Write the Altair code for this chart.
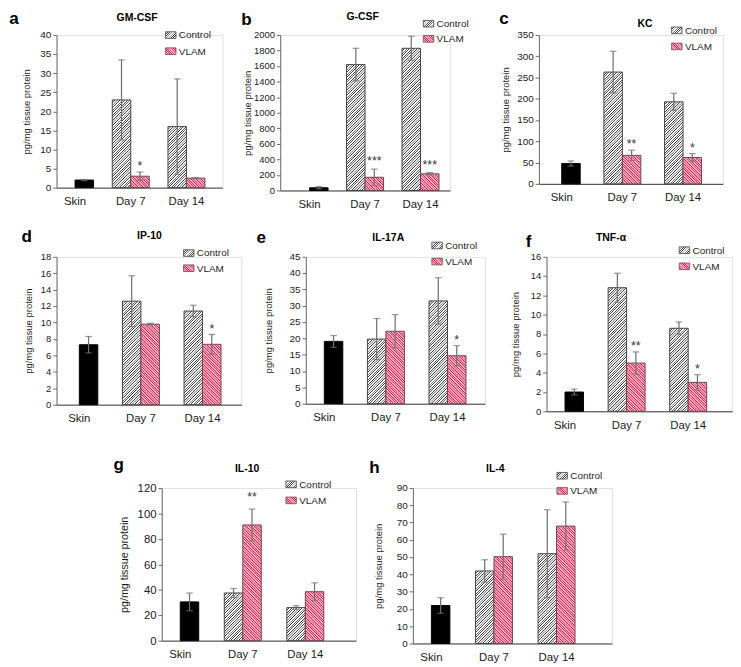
import altair as alt

# ---------------- data ----------------
categories = ["Skin", "Day 7", "Day 14"]
bar_days = ["Skin", "Day 7", "Day 7", "Day 14", "Day 14"]
bar_groups = ["Skin", "Control", "VLAM", "Control", "VLAM"]
legend_labels = ["Control", "VLAM"]

letters = ["a", "b", "c", "d", "e", "f", "g", "h"]
titles = ["GM-CSF", "G-CSF", "KC", "IP-10", "IL-17A", "TNF-α", "IL-10", "IL-4"]
y_title = "pg/mg tissue protein"
y_max = [40, 2000, 350, 18, 45, 16, 120, 90]
y_step = [5, 200, 50, 2, 5, 2, 20, 10]

gmcsf_mean = [2.0, 23.0, 3.0, 16.0, 2.5]
gmcsf_err = [0.15, 10.5, 1.1, 12.5, 0.15]
gmcsf_sig = ["", "", "*", "", ""]

gcsf_mean = [35, 1620, 170, 1830, 215]
gcsf_err = [15, 210, 105, 155, 15]
gcsf_sig = ["", "", "***", "", "***"]

kc_mean = [48, 263, 67, 193, 62]
kc_err = [6, 49, 12, 20, 9]
kc_sig = ["", "", "**", "", "*"]

ip10_mean = [7.3, 12.6, 9.8, 11.4, 7.35]
ip10_err = [1.0, 3.1, 0.1, 0.7, 1.2]
ip10_sig = ["", "", "", "", "*"]

il17a_mean = [19.1, 19.8, 22.2, 31.5, 14.7]
il17a_err = [1.8, 6.3, 5.1, 7.1, 3.1]
il17a_sig = ["", "", "", "", "*"]

tnfa_mean = [2.0, 12.8, 5.0, 8.6, 3.0]
tnfa_err = [0.3, 1.5, 1.15, 0.65, 0.8]
tnfa_sig = ["", "", "**", "", "*"]

il10_mean = [30.5, 37.5, 91.0, 26.0, 38.5]
il10_err = [7.0, 3.5, 12.5, 1.5, 7.0]
il10_sig = ["", "", "**", "", ""]

il4_mean = [22.0, 42.0, 50.3, 52.0, 68.0]
il4_err = [4.5, 6.5, 13.0, 25.5, 14.0]
il4_sig = ["", "", "", "", ""]

means = [gmcsf_mean, gcsf_mean, kc_mean, ip10_mean, il17a_mean, tnfa_mean, il10_mean, il4_mean]
errs = [gmcsf_err, gcsf_err, kc_err, ip10_err, il17a_err, tnfa_err, il10_err, il4_err]
sigs = [gmcsf_sig, gcsf_sig, kc_sig, ip10_sig, il17a_sig, tnfa_sig, il10_sig, il4_sig]

# ---------------- layout / style ----------------
FONT = "Liberation Sans"
CTRL_DARK, CTRL_LIGHT = "#404040", "#ffffff"
VLAM_DARK, VLAM_LIGHT = "#dc1f4c", "#f8b0c2"
CTRL_STROKE, VLAM_STROKE = "#3c3c3c", "#6e3d49"
ERR_COLOR = "#707070"

layout = [
    dict(W=175, H=161, pi=0.336, po=0.157, al=0.0, let=(-50, -12), tit=(85, -18), leg=(115, 0, 17), ytx=-32, yfs=10.5, yts=10, xfs=12, sdy=-2),
    dict(W=179, H=164, pi=0.333, po=0.196, al=0.5, let=(-41, -11), tit=(87, -19), leg=(151, -12, 16), ytx=-34, yfs=10, yts=10, xfs=12, sdy=-4),
    dict(W=194, H=157, pi=0.391, po=0.211, al=0.167, let=(-42, -12), tit=(112, -11), leg=(140, -5, 17), ytx=-35, yfs=10.5, yts=10, xfs=12, sdy=-2),
    dict(W=195, H=156, pi=0.4, po=0.2, al=0.173, let=(-37, -16), tit=(98, -22), leg=(134, -4, 16), ytx=-29, yfs=10, yts=10, xfs=12, sdy=-2),
    dict(W=189, H=155, pi=0.4, po=0.154, al=0.0, let=(-52, -15), tit=(87, -20), leg=(133, -12, 17), ytx=-39, yfs=10.5, yts=10, xfs=12, sdy=-2),
    dict(W=196, H=163, pi=0.4, po=0.208, al=0.0, let=(-22, -10), tit=(68, -20), leg=(140, -7, 17), ytx=-33, yfs=10, yts=10, xfs=12, sdy=-2),
    dict(W=205, H=161, pi=0.409, po=0.258, al=0.0, let=(-51, -19), tit=(90, -20), leg=(131, -4, 17), ytx=-39, yfs=12, yts=11.3, xfs=12, sdy=-8),
    dict(W=210, H=164, pi=0.409, po=0.295, al=0.0, let=(-46, -16), tit=(87, -20), leg=(152, -13, 16), ytx=-36, yfs=10.5, yts=10, xfs=12, sdy=-2),
]


def hatch(w, h, direction, dark, light, period=2.7):
    w = max(float(w), 1.0)
    h = max(float(h), 1.0)
    k = (w + h) / (w * w + h * h)
    if direction == "/":
        x1, y1, x2, y2 = 0.0, 0.0, k * w, k * h
    else:
        x1, y1, x2, y2 = 0.0, 1.0, k * w, 1.0 - k * h
    p = period / (w + h)
    stops = []
    t = 0.0
    while t < 1.0:
        for frac, col in ((0.0, dark), (0.18, dark), (0.38, light), (0.86, light)):
            o = t + frac * p
            if o <= 1.0:
                stops.append({"offset": round(o, 5), "color": col})
        t += p
    stops.append({"offset": 1.0, "color": light})
    return {"gradient": "linear", "x1": round(x1, 5), "y1": round(y1, 5),
            "x2": round(x2, 5), "y2": round(y2, 5), "stops": stops}


one_row = alt.Data(values=[{"k": 0}])


def panel(i, extend_right=0):
    L = layout[i]
    W, H = L["W"], L["H"]
    ymax = y_max[i]
    step = W / (3 - L["pi"] + 2 * L["po"])
    bw = step * (1 - L["pi"]) / 2
    recs = []
    for j in range(5):
        m = means[i][j]
        e = errs[i][j]
        g = bar_groups[j]
        hpx = m / ymax * H
        if g == "Skin":
            fillv, strokev = "#000000", "#000000"
        elif g == "Control":
            fillv, strokev = hatch(bw, hpx, "/", CTRL_DARK, CTRL_LIGHT), CTRL_STROKE
        else:
            fillv, strokev = hatch(bw, hpx, "\\", VLAM_DARK, VLAM_LIGHT), VLAM_STROKE
        recs.append({
            "day": bar_days[j],
            "slot": "Control" if g == "Control" else "VLAM",
            "group": g, "mean": m, "lo": m - e, "hi": m + e,
            "sig": sigs[i][j], "fillv": fillv, "strokev": strokev,
        })
    data = alt.Data(values=recs)

    xaxis = alt.Axis(title=None, labelAngle=0, ticks=False, labelPadding=9,
                     labelFontSize=L["xfs"], labelColor="#1a1a1a", labelFont=FONT,
                     domainColor="#333333", domainWidth=1)
    xscale = alt.Scale(domain=categories, paddingInner=L["pi"], paddingOuter=L["po"], align=L["al"])
    yaxis = alt.Axis(title=y_title, values=list(range(0, ymax + 1, y_step[i])), format="d", grid=False,
                     tickSize=4, tickColor="#666666", domainColor="#666666",
                     labelFontSize=L["yfs"], labelColor="#1a1a1a", labelFont=FONT, labelPadding=2,
                     titleFontSize=L["yts"], titleFontWeight="normal", titleColor="#1a1a1a",
                     titleFont=FONT, titleX=L["ytx"], titleY=H / 2, titleAngle=-90,
                     titleAlign="center", titleBaseline="middle")
    yscale = alt.Scale(domain=[0, ymax], nice=False, zero=True)

    def X():
        return alt.X("day:N", scale=xscale, axis=xaxis, sort=categories)

    def XO():
        return alt.XOffset("slot:N", scale=alt.Scale(domain=["Control", "VLAM"], paddingInner=0, paddingOuter=0))

    def Y(f):
        return alt.Y(f + ":Q", scale=yscale, axis=yaxis)

    base = alt.Chart(data)
    bars = base.mark_bar(strokeWidth=1).encode(
        x=X(), xOffset=XO(), y=Y("mean"),
        fill=alt.Fill("fillv:N", scale=None),
        stroke=alt.Stroke("strokev:N", scale=None),
    )
    rule = base.mark_rule(color=ERR_COLOR, strokeWidth=1.3).encode(
        x=X(), xOffset=XO(), y=Y("lo"), y2="hi:Q")
    cap_lo = base.mark_tick(color=ERR_COLOR, size=7, thickness=1.3).encode(
        x=X(), xOffset=XO(), y=Y("lo"))
    cap_hi = base.mark_tick(color=ERR_COLOR, size=7, thickness=1.3).encode(
        x=X(), xOffset=XO(), y=Y("hi"))
    stars = base.transform_filter("datum.sig != ''").mark_text(
        font=FONT, fontSize=13, color="#333333", baseline="alphabetic", align="center", dy=L["sdy"]
    ).encode(x=X(), xOffset=XO(), y=Y("hi"), text="sig:N")

    lx, ly = L["let"]
    letter = alt.Chart(one_row).mark_text(
        font=FONT, fontSize=18, fontWeight="bold", align="left", baseline="alphabetic", color="#000000"
    ).encode(x=alt.value(lx), y=alt.value(ly), text=alt.value(letters[i]))
    tx, ty = L["tit"]
    title = alt.Chart(one_row).mark_text(
        font=FONT, fontSize=11, fontWeight="bold", align="center", baseline="middle", color="#000000"
    ).encode(x=alt.value(tx), y=alt.value(ty), text=alt.value(titles[i]))

    gx, gy, gap = L["leg"]
    sw, sh = 11, 7
    layers = [bars, rule, cap_lo, cap_hi, stars, letter, title]
    for r, (lab, fillv, strk) in enumerate([
        (legend_labels[0], hatch(sw, sh, "/", CTRL_DARK, CTRL_LIGHT, 2.4), CTRL_STROKE),
        (legend_labels[1], hatch(sw, sh, "\\", VLAM_DARK, VLAM_LIGHT, 2.4), VLAM_STROKE),
    ]):
        cy = gy + r * gap
        layers.append(alt.Chart(one_row).mark_rect(stroke=strk, strokeWidth=0.8).encode(
            x=alt.value(gx), x2=alt.value(gx + sw), y=alt.value(cy - sh / 2), y2=alt.value(cy + sh / 2),
            fill=alt.value(fillv)))
        layers.append(alt.Chart(one_row).mark_text(
            font=FONT, fontSize=10.5, align="left", baseline="middle", color="#262626"
        ).encode(x=alt.value(gx + 14), y=alt.value(cy + 0.5), text=alt.value(lab)))
    if extend_right:
        # invisible rule: only widens the panel's layout bounds
        layers.append(alt.Chart(one_row).mark_rule(strokeOpacity=0).encode(
            x=alt.value(W + extend_right), y=alt.value(H / 2), y2=alt.value(H / 2 + 1)))

    return alt.layer(*layers).properties(width=W, height=H)


P = [panel(i) for i in range(7)] + [panel(7, extend_right=16)]

row1 = alt.hconcat(alt.hconcat(P[0], P[1], spacing=18), P[2], spacing=30)
row2 = alt.hconcat(alt.hconcat(P[3], P[4], spacing=14), P[5], spacing=25)
row3 = alt.hconcat(P[6], P[7], spacing=12)

top = alt.vconcat(row1, row2, spacing=18)
chart = alt.vconcat(top, row3, spacing=26, center=True).properties(
    padding={"top": -17, "left": 0, "right": 0, "bottom": 0}
).configure_view(stroke=None).configure(font=FONT)

chart.save("out.html", embed_options={"renderer": "svg", "actions": False})
